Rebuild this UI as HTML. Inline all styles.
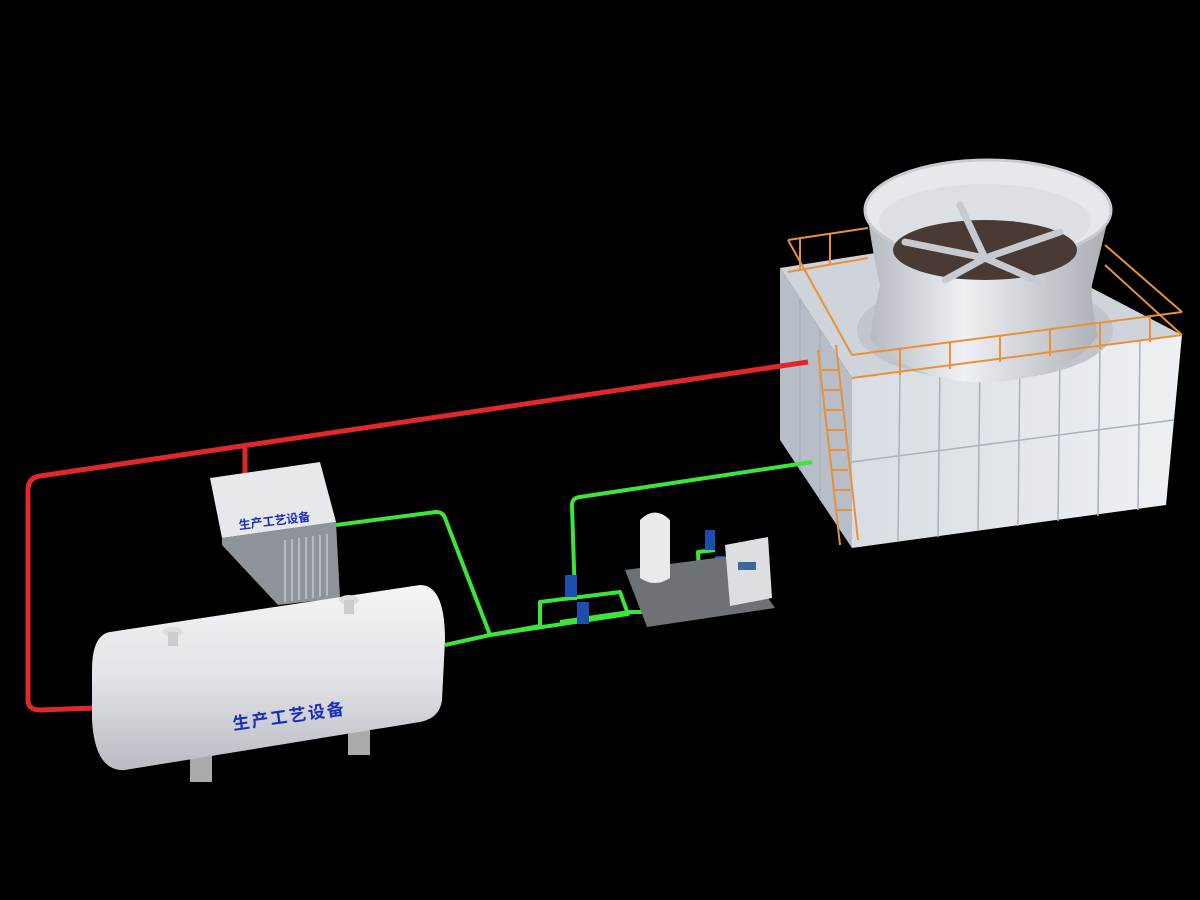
<!DOCTYPE html>
<html><head><meta charset="utf-8"><style>
html,body{margin:0;padding:0;background:#000;}
svg{display:block}
</style></head><body>
<svg width="1200" height="900" viewBox="0 0 1200 900" xmlns="http://www.w3.org/2000/svg">
<defs>
<linearGradient id="tank" x1="0" y1="0" x2="0" y2="1">
<stop offset="0" stop-color="#f4f4f6"/><stop offset="0.5" stop-color="#e2e3e8"/><stop offset="1" stop-color="#b9bbc2"/></linearGradient>
<linearGradient id="face" x1="0" y1="0" x2="1" y2="0">
<stop offset="0" stop-color="#d8dde3"/><stop offset="1" stop-color="#eef1f4"/></linearGradient>
<linearGradient id="bowl" x1="0" y1="0" x2="1" y2="0">
<stop offset="0" stop-color="#b4b8bf"/><stop offset="0.4" stop-color="#eef0f3"/><stop offset="1" stop-color="#a9adb4"/></linearGradient>
</defs>
<rect width="1200" height="900" fill="#000"/>

<!-- cooling tower -->
<polygon points="780,268 852,378 852,548 780,440" fill="#b7bec7"/>
<polygon points="852,378 1182,335 1166,505 852,548" fill="url(#face)"/>
<polygon points="780,268 990,235 1182,335 852,378" fill="#cfd4da"/>
<g stroke="#aab1ba" stroke-width="1.5" fill="none">
<line x1="852" y1="462" x2="1174" y2="420"/>
<line x1="900" y1="372" x2="898" y2="542"/><line x1="940" y1="366" x2="938" y2="537"/>
<line x1="980" y1="361" x2="978" y2="531"/><line x1="1020" y1="356" x2="1018" y2="526"/>
<line x1="1060" y1="350" x2="1058" y2="521"/><line x1="1100" y1="345" x2="1098" y2="516"/>
<line x1="1140" y1="340" x2="1138" y2="510"/>
<line x1="800" y1="298" x2="800" y2="470"/><line x1="820" y1="330" x2="820" y2="500"/>
</g>
<!-- fan -->
<ellipse cx="985" cy="330" rx="128" ry="50" fill="#c2c6cc"/>
<path d="M866,205 Q872,250 880,285 Q870,330 870,340 Q920,385 990,382 Q1070,378 1098,335 Q1090,300 1092,285 Q1102,245 1110,210 Z" fill="url(#bowl)"/>
<ellipse cx="988" cy="210" rx="123" ry="50" fill="#e6e8ec" stroke="#c8ccd2" stroke-width="3"/>
<ellipse cx="985" cy="222" rx="106" ry="38" fill="#dcdfe3"/>
<ellipse cx="985" cy="250" rx="92" ry="30" fill="#4a3a34"/>
<g stroke="#c7cbd1" stroke-width="7" stroke-linecap="round">
<line x1="985" y1="258" x2="960" y2="205"/><line x1="985" y1="258" x2="1060" y2="232"/>
<line x1="985" y1="258" x2="905" y2="242"/><line x1="985" y1="258" x2="945" y2="280"/>
<line x1="985" y1="258" x2="1040" y2="282"/></g>
<!-- railings -->
<g stroke="#e8913a" stroke-width="2" fill="none">
<polyline points="788,240 868,228"/><polyline points="788,272 868,258"/>
<polyline points="852,378 1182,335"/><polyline points="852,355 1182,312"/>
<polyline points="1105,245 1182,312"/><polyline points="1105,265 1182,335"/>
<polyline points="788,240 852,355"/>
<line x1="818" y1="350" x2="840" y2="545"/><line x1="836" y1="345" x2="858" y2="540"/>
<path d="M822,370h16M824,390h16M826,410h16M828,430h16M830,450h16M832,470h16M834,490h16M836,510h16"/>
<path d="M900,349v26M950,343v26M1000,336v26M1050,330v26M1100,323v26M1150,316v26M800,238v32M830,234v30"/>
</g>

<!-- red pipe -->
<g stroke="#e0282c" stroke-width="5" fill="none" stroke-linejoin="round">
<path d="M808,362 L40,476 Q28,478 28,490 L28,700 Q28,710 40,710 L95,708"/>
<path d="M245,448 L245,498"/>
</g>

<!-- green pipes -->
<g stroke="#3ee43a" stroke-width="4" fill="none" stroke-linejoin="round">
<path d="M336,525 L436,512 Q443,512 445,518 L490,635 L445,645"/>
<path d="M490,635 L540,626 L540,602 L620,592 L628,614 L490,635"/>
<path d="M560,622 L630,612 L645,612"/>
<path d="M575,600 L572,505 Q572,498 580,497 L812,462"/>
<path d="M665,605 L700,600 L698,552 L715,550"/>
</g>

<!-- process box -->
<polygon points="210,478 320,462 336,522 222,538" fill="#e7e8ec"/>
<polygon points="222,538 336,522 340,598 278,605 222,545" fill="#8f939a"/>
<g stroke="#c4c7cc" stroke-width="1.5"><path d="M285,540v62M292,539v62M299,538v62M306,537v62M313,536v62M320,535v62M327,534v62"/></g>
<text x="275" y="525" font-family="Liberation Sans,'Noto Sans CJK SC',sans-serif" font-size="12" font-weight="bold" fill="#1a2fb8" transform="rotate(-7 275 525)" text-anchor="middle">生产工艺设备</text>

<!-- tank -->
<rect x="190" y="750" width="22" height="32" fill="#aaa"/><rect x="348" y="725" width="22" height="30" fill="#aaa"/>
<path d="M110,632 L420,585 Q445,585 445,640 L442,700 Q440,718 420,722 L125,770 Q95,772 92,720 L92,670 Q92,635 110,632 Z" fill="url(#tank)"/>
<ellipse cx="173" cy="632" rx="10" ry="5" fill="#ddd"/><rect x="168" y="632" width="10" height="14" fill="#ccc"/>
<ellipse cx="349" cy="600" rx="10" ry="5" fill="#ddd"/><rect x="344" y="600" width="10" height="14" fill="#ccc"/>
<text x="290" y="722" font-family="Liberation Sans,'Noto Sans CJK SC',sans-serif" font-size="17" font-weight="bold" fill="#1a2fb8" transform="rotate(-8 290 722)" text-anchor="middle" letter-spacing="2">生产工艺设备</text>

<!-- pumps -->
<g fill="#1a4fb0"><rect x="565" y="575" width="12" height="22"/><rect x="577" y="602" width="12" height="22"/>
<rect x="705" y="530" width="10" height="20"/><rect x="715" y="556" width="10" height="20"/></g>
<!-- skid -->
<polygon points="625,570 738,555 775,608 647,627" fill="#6e7175"/>
<path d="M640,520 Q655,505 670,520 L670,578 Q655,588 640,578 Z" fill="#e9eaed"/>
<polygon points="725,545 768,537 772,598 730,606" fill="#dcdee2"/>
<rect x="738" y="562" width="18" height="8" fill="#3a6a9a"/>
</svg>
</body></html>
